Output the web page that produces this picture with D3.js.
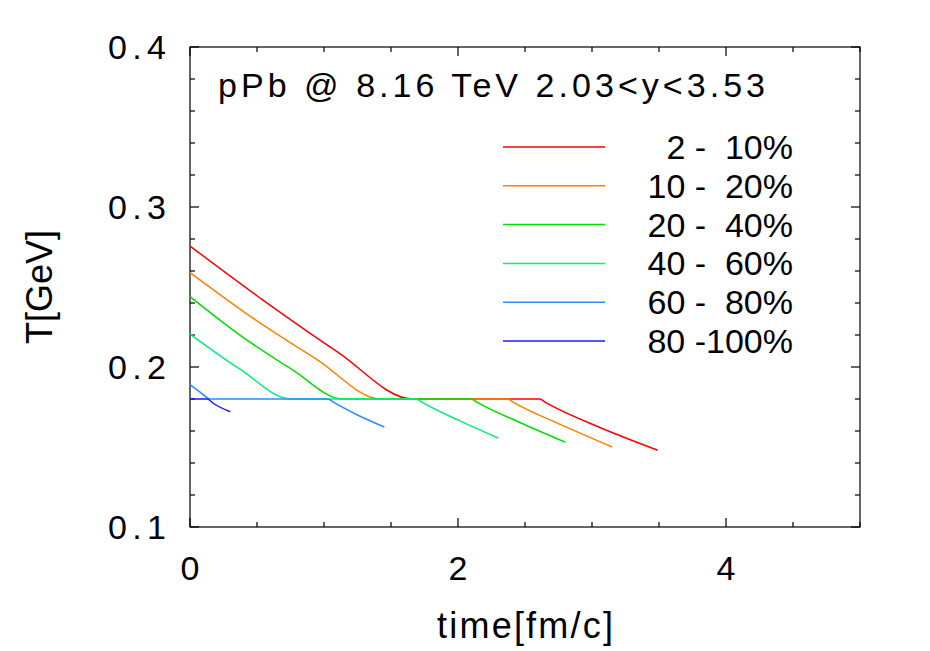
<!DOCTYPE html>
<html><head><meta charset="utf-8">
<script src="https://cdn.jsdelivr.net/npm/d3@7"></script>
<style>body{margin:0;background:#fff}text{font-family:"Liberation Sans",Arial,sans-serif}</style>
</head><body><svg id="c" width="930" height="651"></svg>
<script>
// centrality classes and their T(t) curves
var labels = ["  2 -  10%", "10 -  20%", "20 -  40%", "40 -  60%", "60 -  80%", "80 -100%"];
var colors = ["#ff0000", "#ff8000", "#00e000", "#00f07a", "#2a8cff", "#1a1aff"];
var curves = [
  [[0,0.2756],[0.55,0.2415],[1.1,0.2095],[1.66,0.18],[2.61,0.18],[2.65,0.178],[3.05,0.1625],[3.49,0.148]],
  [[0,0.259],[0.47,0.2305],[0.95,0.2045],[1.42,0.18],[2.37,0.18],[2.41,0.178],[2.78,0.1635],[3.15,0.150]],
  [[0,0.244],[0.38,0.2195],[0.76,0.1985],[1.14,0.18],[2.10,0.18],[2.14,0.178],[2.47,0.1650],[2.80,0.153]],
  [[0,0.2206],[0.375,0.1985],[0.75,0.18],[1.69,0.18],[1.73,0.178],[2.01,0.1665],[2.30,0.1556]],
  [[0,0.189],[0.08,0.184],[0.15,0.18],[1.03,0.18],[1.07,0.178],[1.25,0.1700],[1.45,0.1625]],
  [[0,0.18],[0.13,0.18],[0.17,0.1775],[0.30,0.172]]
];
var xTicks = [0, 2, 4];
var yTicks = [0.1, 0.2, 0.3, 0.4];

var svg = d3.select("#c");
var x = d3.scaleLinear().domain([0, 5]).range([190, 860]);
var y = d3.scaleLinear().domain([0.1, 0.4]).range([527, 47]);
var g = svg.append("g").attr("stroke", "#000").attr("stroke-width", 1.2);

g.append("rect").attr("x", 190).attr("y", 47).attr("width", 670).attr("height", 480).attr("fill", "none");

// ticks on all four sides
d3.range(0, 5.01, 0.5).forEach(function(v) {
  var L = (Math.abs(v % 2) < 1e-9) ? 9 : 5;
  g.append("line").attr("x1", x(v)).attr("x2", x(v)).attr("y1", 527).attr("y2", 527 - L);
  g.append("line").attr("x1", x(v)).attr("x2", x(v)).attr("y1", 47).attr("y2", 47 + L);
});
d3.range(0.1, 0.4001, 0.02).forEach(function(v) {
  var L = (Math.abs(v * 10 - Math.round(v * 10)) < 1e-6) ? 9 : 5;
  g.append("line").attr("y1", y(v)).attr("y2", y(v)).attr("x1", 190).attr("x2", 190 + L);
  g.append("line").attr("y1", y(v)).attr("y2", y(v)).attr("x1", 860).attr("x2", 860 - L);
});

svg.selectAll(".xt").data(xTicks).enter().append("text")
  .attr("x", d => x(d)).attr("y", 580).attr("text-anchor", "middle")
  .attr("font-size", 34).text(d => d);
svg.selectAll(".yt").data(yTicks).enter().append("text")
  .attr("x", 166).attr("y", d => y(d) + 12).attr("text-anchor", "end")
  .attr("font-size", 34).attr("textLength", 58).text(d => d.toFixed(1));

svg.append("text").attr("x", 437).attr("y", 638)
  .attr("font-size", 36).attr("textLength", 176).text("time[fm/c]");
svg.append("text").attr("transform", "translate(52,287) rotate(-90)").attr("text-anchor", "middle")
  .attr("font-size", 36).text("T[GeV]");
svg.append("text").attr("x", 218).attr("y", 97).attr("font-size", 34)
  .attr("textLength", 547).text("pPb @ 8.16 TeV 2.03<y<3.53");

var line = d3.line().x(d => x(d[0])).y(d => y(d[1])).curve(d3.curveMonotoneX);
svg.selectAll(".curve").data(curves).enter().append("path")
  .attr("d", line).attr("fill", "none").attr("stroke-width", 1.5)
  .attr("stroke", (d, i) => colors[i]);

var leg = svg.selectAll(".leg").data(labels).enter().append("g")
  .attr("transform", (d, i) => "translate(0," + (147 + i * 38.8) + ")");
leg.append("line").attr("x1", 503).attr("x2", 605).attr("stroke-width", 1.5)
  .attr("stroke", (d, i) => colors[i]);
leg.append("text").attr("x", 793).attr("y", 12).attr("text-anchor", "end")
  .attr("font-size", 34).attr("xml:space", "preserve").style("white-space", "pre").text(d => d);
</script></body></html>
